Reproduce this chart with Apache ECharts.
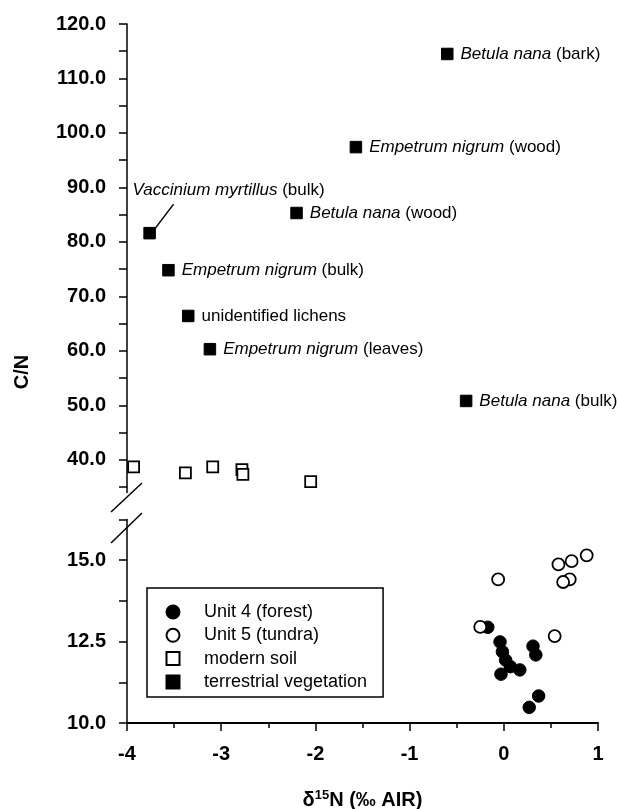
<!DOCTYPE html>
<html>
<head>
<meta charset="utf-8">
<script src="https://cdn.jsdelivr.net/npm/echarts@6/dist/echarts.min.js"></script>
<style>
html,body{margin:0;padding:0;background:#fff;}
#c{width:618px;height:809px;}
</style>
</head>
<body>
<div id="c"></div>
<script>
// ---- data ----
const vegX = [-0.60, -1.57, -2.20, -3.76, -3.56, -3.35, -3.12, -0.40];
const vegY = [114.5, 97.4, 85.3, 81.6, 74.8, 66.4, 60.3, 50.8];
const vegItalic = ['Betula nana', 'Empetrum nigrum', 'Betula nana', 'Vaccinium myrtillus', 'Empetrum nigrum', '', 'Empetrum nigrum', 'Betula nana'];
const vegPlain = ['(bark)', '(wood)', '(wood)', '(bulk)', '(bulk)', 'unidentified lichens', '(leaves)', '(bulk)'];

const soilX = [-3.93, -3.38, -3.09, -2.78, -2.77, -2.05];
const soilY = [38.7, 37.6, 38.7, 38.2, 37.3, 36.0];

const unit4X = [-0.17, -0.04, -0.015, 0.02, 0.07, 0.17, -0.03, 0.31, 0.34, 0.37, 0.27];
const unit4Y = [12.94, 12.49, 12.19, 11.93, 11.73, 11.63, 11.50, 12.36, 12.09, 10.83, 10.48];

const unit5X = [0.88, 0.72, 0.58, -0.06, 0.70, 0.63, -0.25, 0.54];
const unit5Y = [15.15, 14.97, 14.87, 14.41, 14.41, 14.33, 12.95, 12.67];

const legendNames = ['Unit 4 (forest)', 'Unit 5 (tundra)', 'modern soil', 'terrestrial vegetation'];
const xTitle = 'δ{s|15}N (‰ AIR)';
const yTitle = 'C/N';

// ---- chart ----
const FONT = 'Liberation Sans, Arial, Helvetica, sans-serif';
const chart = echarts.init(document.getElementById('c'), null, {renderer: 'canvas'});
const zip = (xs, ys) => xs.map((x, i) => [x, ys[i]]);
const LEADER = 3; // index of the label placed above with a leader line

const vegData = vegX.map((x, i) => {
  const item = {value: [x, vegY[i]]};
  if (i === LEADER) {
    item.label = {position: 'top', distance: 5};
  }
  return item;
});

const axisLabelStyle = {color: '#000', fontFamily: FONT, fontWeight: 'bold', fontSize: 20};

const option = {
  animation: false,
  backgroundColor: '#fff',
  textStyle: {fontFamily: FONT, color: '#000'},
  grid: [
    {left: 127, width: 471, top: 24, height: 463, outerBoundsMode: 'none', containLabel: false},
    {left: 127, width: 471, top: 519.5, height: 203.5, outerBoundsMode: 'none', containLabel: false}
  ],
  xAxis: [
    {gridIndex: 0, type: 'value', min: -4, max: 1, interval: 1, show: false},
    {gridIndex: 1, type: 'value', min: -4, max: 1, interval: 1,
      axisLine: {show: true, onZero: false, lineStyle: {color: '#000', width: 2}},
      axisTick: {show: true, inside: false, length: 8, lineStyle: {color: '#000', width: 1.5}},
      minorTick: {show: true, splitNumber: 2, length: 5, lineStyle: {color: '#000', width: 1.5}},
      splitLine: {show: false},
      axisLabel: Object.assign({margin: 21, formatter: v => String(v)}, axisLabelStyle),
      name: xTitle, nameLocation: 'middle', nameGap: 66,
      nameTextStyle: {color: '#000', fontFamily: FONT, fontWeight: 'bold', fontSize: 20,
        rich: {s: {fontFamily: FONT, fontWeight: 'bold', fontSize: 13, verticalAlign: 'bottom', padding: [0, 0, 10, 0]}}}
    }
  ],
  yAxis: [
    {gridIndex: 0, type: 'value', min: 35, max: 120, interval: 5,
      axisLine: {show: true, onZero: false, lineStyle: {color: '#000', width: 1.5}},
      axisTick: {show: true, inside: false, length: 8, lineStyle: {color: '#000', width: 1.5}},
      splitLine: {show: false},
      axisLabel: Object.assign({margin: 21, formatter: v => (Math.abs(v % 10) < 1e-6 ? v.toFixed(1) : '')}, axisLabelStyle)
    },
    {gridIndex: 1, type: 'value', min: 10, max: 16.25, interval: 1.25,
      axisLine: {show: true, onZero: false, lineStyle: {color: '#000', width: 1.5}},
      axisTick: {show: true, inside: false, length: 8, lineStyle: {color: '#000', width: 1.5}},
      splitLine: {show: false},
      axisLabel: Object.assign({margin: 21, formatter: v => {
        const r = v / 2.5; return Math.abs(r - Math.round(r)) < 1e-6 && v <= 15 ? v.toFixed(1) : '';
      }}, axisLabelStyle)
    }
  ],
  legend: {
    orient: 'vertical', left: 147, top: 588,
    data: legendNames,
    itemWidth: 13, itemHeight: 13, itemGap: 5.3,
    padding: [15, 16, 6, 18.5],
    borderColor: '#000', borderWidth: 1.5, backgroundColor: '#fff',
    textStyle: {color: '#000', fontFamily: FONT, fontSize: 18, lineHeight: 16, padding: [0, 0, 0, 19.5]}
  },
  series: [
    {name: legendNames[0], type: 'scatter', xAxisIndex: 1, yAxisIndex: 1, symbol: 'circle', symbolSize: 12.5,
      itemStyle: {color: '#000', borderColor: '#000', borderWidth: 1, opacity: 1},
      data: zip(unit4X, unit4Y)},
    {name: legendNames[1], type: 'scatter', xAxisIndex: 1, yAxisIndex: 1, symbol: 'circle', symbolSize: 12,
      itemStyle: {color: '#fff', borderColor: '#000', borderWidth: 1.8, opacity: 1},
      data: zip(unit5X, unit5Y)},
    {name: legendNames[2], type: 'scatter', xAxisIndex: 0, yAxisIndex: 0, symbol: 'rect', symbolSize: 11,
      itemStyle: {color: '#fff', borderColor: '#000', borderWidth: 1.8, opacity: 1},
      data: zip(soilX, soilY)},
    {name: legendNames[3], type: 'scatter', xAxisIndex: 0, yAxisIndex: 0, symbol: 'rect', symbolSize: 11.5,
      itemStyle: {color: '#000', borderColor: '#000', borderWidth: 1, opacity: 1},
      label: {
        show: true, position: 'right', distance: 7, color: '#000', fontFamily: FONT, fontSize: 17,
        formatter: p => {
          const i = p.dataIndex;
          return vegItalic[i] ? '{i|' + vegItalic[i] + '} ' + vegPlain[i] : vegPlain[i];
        },
        rich: {i: {fontStyle: 'italic', fontFamily: FONT, fontSize: 17, color: '#000'}}
      },
      labelLine: {show: false},
      labelLayout: p => (p.dataIndex === LEADER ? {dx: 79, dy: -23} : {}),
      data: vegData}
  ]
};
chart.setOption(option);

// decorations positioned from the axis scales
const a = chart.convertToPixel({gridIndex: 0}, [-4, 35]);
const v = chart.convertToPixel({gridIndex: 0}, [vegX[LEADER], vegY[LEADER]]);
const lineStyle = {stroke: '#000', lineWidth: 1.5};
chart.setOption({
  graphic: [
    {type: 'line', shape: {x1: a[0], y1: a[1], x2: a[0], y2: a[1] + 6}, style: lineStyle},
    {type: 'line', shape: {x1: a[0] - 16, y1: a[1] + 25, x2: a[0] + 15, y2: a[1] - 4}, style: lineStyle},
    {type: 'line', shape: {x1: a[0] - 16, y1: a[1] + 56, x2: a[0] + 15, y2: a[1] + 26}, style: lineStyle},
    {type: 'line', shape: {x1: v[0] + 5, y1: v[1] - 4, x2: v[0] + 24, y2: v[1] - 29}, style: lineStyle},
    {type: 'text', x: 22, y: 372, rotation: Math.PI / 2,
      style: {text: yTitle, font: 'bold 20px ' + FONT, fill: '#000', textAlign: 'center', textVerticalAlign: 'middle'}}
  ]
});
</script>
</body>
</html>
